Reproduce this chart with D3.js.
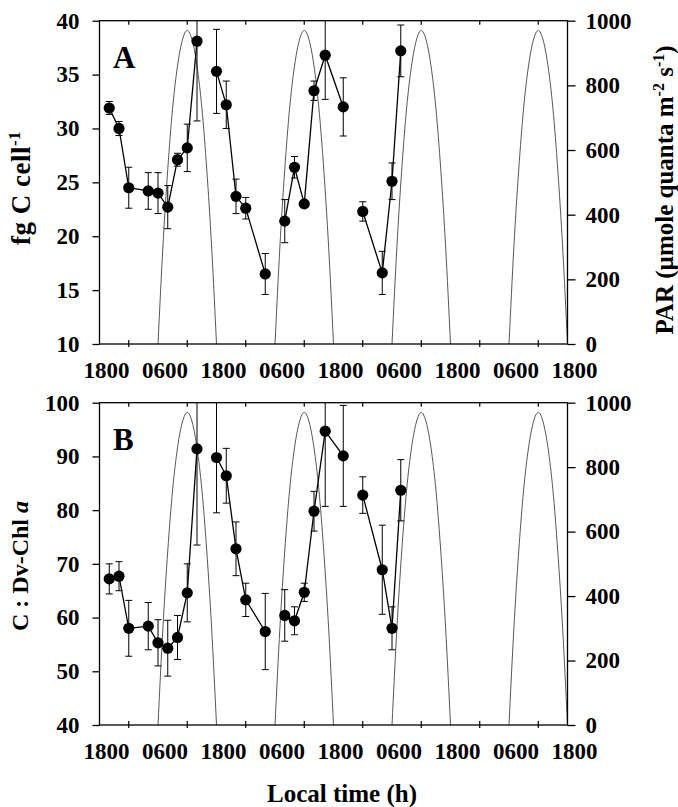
<!DOCTYPE html>
<html>
<head>
<meta charset="utf-8">
<script src="https://cdn.jsdelivr.net/npm/d3@7/dist/d3.min.js"></script>
<style>
  body { margin: 0; background: #fff; }
  text { font-family: "Liberation Serif", "Times New Roman", serif; font-weight: bold; fill: #000; }
</style>
</head>
<body>
<svg id="chart" width="678" height="807"></svg>
<script>
// sampling times, hours after 1800 of the first day
var hours = [2, 4, 6, 10, 12, 14, 16, 18, 20, 24, 26, 28, 30, 34, 38, 40, 42, 44, 46.3, 50, 54, 58, 60, 61.8];
// index where each connected run of samples starts
var runStarts = [0, 9, 14, 20];

// panel A : fg C per cell
var carbon    = [31.9, 30.0, 24.5, 24.2, 24.0, 22.7, 27.1, 28.2, 38.1, 35.3, 32.2, 23.7, 22.6, 16.5, 21.4, 26.4, 23.0, 33.5, 36.8, 32.0, 22.3, 16.6, 25.1, 37.2];
var carbonErr = [0.6, 0.65, 1.9, 1.7, 1.9, 2.0, 0.6, 2.2, 7.4, 3.9, 2.2, 1.6, 1.0, 1.9, 2.0, 1.0, 0.3, 0.9, 4.1, 2.7, 0.9, 2.0, 1.7, 2.4];

// panel B : C : Dv-Chl a
var ratio    = [67.2, 67.7, 58.0, 58.4, 55.3, 54.3, 56.3, 64.6, 91.4, 89.8, 86.4, 72.8, 63.3, 57.4, 60.4, 59.4, 64.7, 79.8, 94.7, 90.1, 82.8, 68.9, 58.0, 83.7];
var ratioErr = [2.8, 2.7, 5.2, 4.4, 4.3, 5.2, 4.1, 5.4, 17.9, 10.3, 5.1, 5.0, 3.1, 7.1, 4.8, 2.6, 1.7, 3.7, 14.0, 9.4, 3.4, 8.3, 4.0, 5.7];

// PAR through one daylight period, hourly from 0600 to 1800
var parHourOfDay = [0, 1, 2, 3, 4, 5, 6, 7, 8, 9, 10, 11, 12];
var parProfile   = [0, 300, 540, 730, 860, 940, 970, 940, 860, 730, 540, 300, 0];
var sunrises = [12, 36, 60, 84];

var xTickHours  = [6, 18, 30, 42, 54, 66, 78, 90];
var xLabelHours = [0, 12, 24, 36, 48, 60, 72, 84, 96];
var xLabels     = ["1800", "0600", "1800", "0600", "1800", "0600", "1800", "0600", "1800"];
var parTicks    = [0, 200, 400, 600, 800, 1000];

var svg = d3.select("#chart");

var x = d3.scaleLinear().domain([0, 96]).range([99.5, 567.5]);

var panels = [
  { id: "A", top: 20.7, bottom: 344, domain: [10, 40], ticks: [10, 15, 20, 25, 30, 35, 40], vals: carbon, err: carbonErr },
  { id: "B", top: 402.7, bottom: 725, domain: [40, 100], ticks: [40, 50, 60, 70, 80, 90, 100], vals: ratio, err: ratioErr }
];

panels.forEach(function(p, pi) {
  var y = d3.scaleLinear().domain(p.domain).range([p.bottom, p.top]);
  var yPar = d3.scaleLinear().domain([0, 1000]).range([p.bottom, p.top]);
  var g = svg.append("g");

  g.append("clipPath").attr("id", "clip" + p.id)
    .append("rect").attr("x", x(0)).attr("y", p.top)
    .attr("width", x(96) - x(0)).attr("height", p.bottom - p.top);

  // PAR humps
  var parLine = d3.line()
    .x(function(d) { return x(d[0]); })
    .y(function(d) { return yPar(d[1]); })
    .curve(d3.curveMonotoneX);
  sunrises.forEach(function(s) {
    var pts = parHourOfDay.map(function(h, i) { return [s + h, parProfile[i]]; });
    g.append("path").attr("d", parLine(pts))
      .attr("fill", "none").attr("stroke", "#444").attr("stroke-width", 0.9);
  });

  // data lines, one per connected run
  var line = d3.line()
    .x(function(i) { return x(hours[i]); })
    .y(function(i) { return y(p.vals[i]); });
  runStarts.forEach(function(s, k) {
    var e = k + 1 < runStarts.length ? runStarts[k + 1] : hours.length;
    g.append("path").attr("d", line(d3.range(s, e)))
      .attr("fill", "none").attr("stroke", "#000").attr("stroke-width", 1.3);
  });

  // error bars
  var eb = g.append("g").attr("clip-path", "url(#clip" + p.id + ")")
    .attr("stroke", "#000").attr("stroke-width", 1);
  hours.forEach(function(h, i) {
    var cx = x(h), y1 = y(p.vals[i] + p.err[i]), y2 = y(p.vals[i] - p.err[i]);
    eb.append("line").attr("x1", cx).attr("x2", cx).attr("y1", y1).attr("y2", y2);
    eb.append("line").attr("x1", cx - 3.5).attr("x2", cx + 3.5).attr("y1", y1).attr("y2", y1);
    eb.append("line").attr("x1", cx - 3.5).attr("x2", cx + 3.5).attr("y1", y2).attr("y2", y2);
  });

  g.selectAll("circle.pt").data(hours).enter().append("circle")
    .attr("cx", function(h) { return x(h); })
    .attr("cy", function(h, i) { return y(p.vals[i]); })
    .attr("r", 5.6).attr("fill", "#000");

  // frame
  g.append("rect").attr("x", x(0)).attr("y", p.top)
    .attr("width", x(96) - x(0)).attr("height", p.bottom - p.top)
    .attr("fill", "none").attr("stroke", "#000").attr("stroke-width", 1.3);

  // left axis
  var la = g.append("g").attr("transform", "translate(" + x(0) + ",0)")
    .call(d3.axisLeft(y).tickValues(p.ticks).tickSize(7).tickSizeOuter(0).tickPadding(13));
  // right axis
  var ra = g.append("g").attr("transform", "translate(" + x(96) + ",0)")
    .call(d3.axisRight(yPar).tickValues(parTicks).tickFormat(d3.format("d"))
      .tickSize(8).tickSizeOuter(0).tickPadding(10));
  [la, ra].forEach(function(a) {
    a.select(".domain").remove();
    a.selectAll("line").attr("stroke-width", 1.3);
    a.selectAll("text").style("font-size", "23px").style("font-family", null);
  });

  // bottom and top ticks
  g.selectAll("line.bt").data(xTickHours).enter().append("line")
    .attr("x1", function(h) { return x(h); }).attr("x2", function(h) { return x(h); })
    .attr("y1", p.bottom - 4).attr("y2", p.bottom + 3)
    .attr("stroke", "#000").attr("stroke-width", 1.2);
  g.selectAll("line.tt").data(xTickHours).enter().append("line")
    .attr("x1", function(h) { return x(h); }).attr("x2", function(h) { return x(h); })
    .attr("y1", p.top).attr("y2", p.top + 4)
    .attr("stroke", "#000").attr("stroke-width", 1.2);

  g.selectAll("text.xl").data(xLabelHours).enter().append("text")
    .attr("x", function(h) { return x(h) + 7; })
    .attr("y", p.bottom + 34)
    .attr("text-anchor", "middle").style("font-size", "23px")
    .text(function(h, i) { return xLabels[i]; });

  g.append("text").attr("x", 113).attr("y", pi === 0 ? 68 : 450)
    .style("font-size", "31px").text(p.id);
});

// axis titles
var tA = svg.append("text").attr("transform", "translate(30,188) rotate(-90)")
  .attr("text-anchor", "middle").style("font-size", "27px").style("letter-spacing", "0.5px");
tA.append("tspan").text("fg C cell");
tA.append("tspan").attr("dy", -10).style("font-size", "17px").text("-1");

var tB = svg.append("text").attr("transform", "translate(28,566) rotate(-90)")
  .attr("text-anchor", "middle").style("font-size", "24px");
tB.append("tspan").text("C : Dv-Chl ");
tB.append("tspan").style("font-style", "italic").text("a");

var tR = svg.append("text").attr("transform", "translate(673,190) rotate(-90)")
  .attr("text-anchor", "middle").style("font-size", "25px");
tR.append("tspan").text("PAR (\u00b5mole quanta m");
tR.append("tspan").attr("dy", -9).style("font-size", "16px").text("-2");
tR.append("tspan").attr("dy", 9).text(" s");
tR.append("tspan").attr("dy", -9).style("font-size", "16px").text("-1");
tR.append("tspan").attr("dy", 9).text(")");

svg.append("text").attr("x", 342).attr("y", 802)
  .attr("text-anchor", "middle").style("font-size", "25px").text("Local time (h)");
</script>
</body>
</html>
